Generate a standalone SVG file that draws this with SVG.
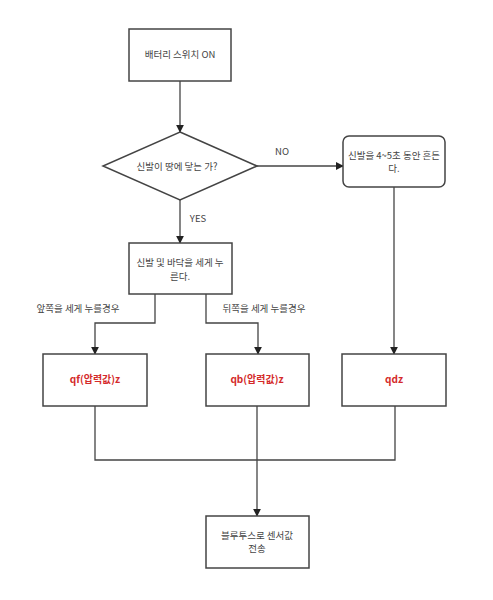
<svg xmlns="http://www.w3.org/2000/svg" width="493" height="600" viewBox="0 0 493 600">
<defs>
<style>
.box{fill:#fff;stroke:#444;stroke-width:1.5}
.ln{fill:none;stroke:#444;stroke-width:1.3}
.t{font-family:"Noto Sans CJK KR","Noto Sans",sans-serif;font-size:9.5px;fill:#444;text-anchor:middle}
.r{font-family:"Noto Sans CJK KR","Liberation Sans",sans-serif;font-size:10px;font-weight:bold;fill:#d42a2a;text-anchor:middle}
</style>
<marker id="ah" viewBox="0 0 10 10" refX="9" refY="5" markerWidth="8" markerHeight="8" markerUnits="userSpaceOnUse" orient="auto">
<path d="M0,0 L10,5 L0,10 z" fill="#222"/>
</marker>
</defs>
<rect width="493" height="600" fill="#fff"/>
<g id="connectors">
<path class="ln" d="M180,81 V132" marker-end="url(#ah)"/>
<path class="ln" d="M256,166 H343" marker-end="url(#ah)"/>
<path class="ln" d="M180,200 V243" marker-end="url(#ah)"/>
<path class="ln" d="M155,294 V323 H95 V354" marker-end="url(#ah)"/>
<path class="ln" d="M206,294 V323 H258 V354" marker-end="url(#ah)"/>
<path class="ln" d="M394,187 V354" marker-end="url(#ah)"/>
<path class="ln" d="M95,406 V460 H395 V406"/>
<path class="ln" d="M257,406 V516" marker-end="url(#ah)"/>
<text class="t" x="282" y="155">NO</text>
<text class="t" x="198" y="222">YES</text>
<text class="t" x="78" y="312">앞쪽을 세게 누를경우</text>
<text class="t" x="264" y="312">뒤쪽을 세게 누를경우</text>
</g>
<g id="start">
<rect class="box" x="129" y="29" width="102" height="52"/>
<text class="t" x="180" y="58">배터리 스위치 ON</text>
</g>
<g id="decision">
<path class="box" d="M180,132 L257,166 L180,200 L103,166 Z"/>
<text class="t" x="177" y="170">신발이 땅에 닿는 가?</text>
</g>
<g id="shake">
<rect class="box" x="343" y="136" width="102" height="51" rx="6"/>
<text class="t" x="394" y="159">신발을 4~5초 동안 흔든</text>
<text class="t" x="394" y="172">다.</text>
</g>
<g id="press">
<rect class="box" x="129" y="243" width="103" height="51"/>
<text class="t" x="180" y="266">신발 및 바닥을 세게 누</text>
<text class="t" x="180" y="280">른다.</text>
</g>
<g id="qf">
<rect class="box" x="43" y="354" width="104" height="52"/>
<text class="r" x="95" y="383">qf(압력값)z</text>
</g>
<g id="qb">
<rect class="box" x="206" y="354" width="103" height="52"/>
<text class="r" x="257" y="383">qb(압력값)z</text>
</g>
<g id="qdz">
<rect class="box" x="342" y="354" width="104" height="52"/>
<text class="r" x="394" y="383">qdz</text>
</g>
<g id="send">
<rect class="box" x="206" y="516" width="103" height="52"/>
<text class="t" x="257" y="539">블루투스로 센서값</text>
<text class="t" x="257" y="552">전송</text>
</g>
</svg>
